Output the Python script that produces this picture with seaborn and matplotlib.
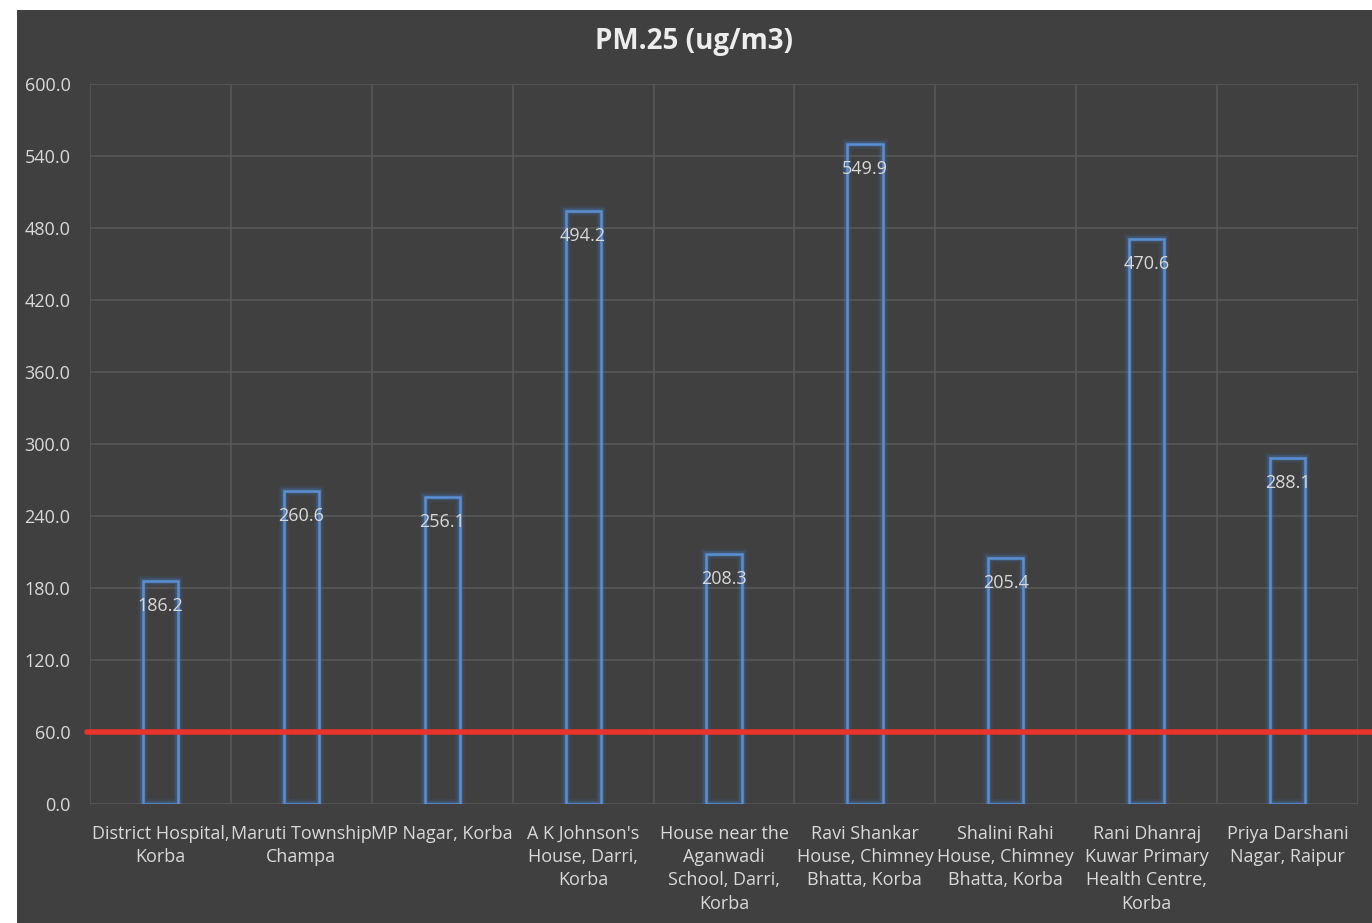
import numpy as np
import matplotlib
matplotlib.use("Agg")
import matplotlib.pyplot as plt
import matplotlib.patheffects as pe
from matplotlib.patches import Rectangle
from matplotlib.lines import Line2D
import seaborn as sns

# Monitoring sites and measured PM2.5 concentrations
sites = [
    "District Hospital,\nKorba",
    "Maruti Township\nChampa",
    "MP Nagar, Korba",
    "A K Johnson's\nHouse, Darri,\nKorba",
    "House near the\nAganwadi\nSchool, Darri,\nKorba",
    "Ravi Shankar\nHouse, Chimney\nBhatta, Korba",
    "Shalini Rahi\nHouse, Chimney\nBhatta, Korba",
    "Rani Dhanraj\nKuwar Primary\nHealth Centre,\nKorba",
    "Priya Darshani\nNagar, Raipur",
]
pm25 = [186.2, 260.6, 256.1, 494.2, 208.3, 549.9, 205.4, 470.6, 288.1]
limit = 60.0
y_ticks = [0, 60, 120, 180, 240, 300, 360, 420, 480, 540, 600]
title = "PM.25 (ug/m3)"

BG = "#404040"
GRID = "#575757"
TXT = "#d9d9d9"
BLUE = "#5b8fd3"

sns.set_theme(style="dark")
plt.rcParams["font.family"] = ["Open Sans", "DejaVu Sans"]

fig = plt.figure(figsize=(13.72, 9.23), dpi=100, facecolor="white")
W, H = 1372, 923
fig.patches.append(Rectangle((17 / W, 0), 1 - 17 / W, 1 - 10 / H,
                             transform=fig.transFigure, facecolor=BG,
                             edgecolor="none", zorder=-10))

ax = fig.add_axes([90 / W, 1 - 804 / H, (1358 - 90) / W, (804 - 84) / H])
ax.set_facecolor(BG)

sns.barplot(x=sites, y=pm25, ax=ax, fill=False, color=BLUE,
            width=0.25, linewidth=1.8, zorder=3)

glow = [pe.Stroke(linewidth=7, foreground="#3d6fb0", alpha=0.15),
        pe.Stroke(linewidth=4.0, foreground="#4a7fc4", alpha=0.30),
        pe.Normal()]
for p in ax.patches:
    p.set_edgecolor(BLUE)
    p.set_path_effects(glow)

for i, v in enumerate(pm25):
    ax.annotate(f"{v:.1f}", xy=(i, v), xytext=(0, -25),
                textcoords="offset pixels",
                ha="center", va="center", color=TXT, fontsize=13, zorder=5)

ax.set_ylim(0, 600)
ax.set_xlim(-0.5, len(sites) - 0.5)
ax.set_yticks(y_ticks)
ax.set_yticklabels([f"{t:.1f}" for t in y_ticks])
ax.set_xticks(np.arange(-0.5, len(sites), 1), minor=True)

ax.grid(False)
ax.grid(True, which="major", axis="y", color=GRID, linewidth=1.2, zorder=0)
ax.grid(True, which="minor", axis="x", color=GRID, linewidth=1.2, zorder=0)
ax.set_axisbelow(True)
for s in ax.spines.values():
    s.set_visible(False)

ax.tick_params(axis="both", which="both", length=0)
ax.tick_params(axis="y", colors=TXT, labelsize=13, pad=14)
ax.tick_params(axis="x", colors=TXT, labelsize=13, pad=15)
for lab in ax.get_xticklabels():
    lab.set_linespacing(1.38)

# Permissible 24-hour limit line, running to the right edge
ax.add_line(Line2D([-0.002, 1.02], [limit, limit], color="#e8342b",
                   linewidth=4, transform=ax.get_yaxis_transform(),
                   clip_on=False, zorder=6))

fig.text(694 / W, 1 - 42 / H, title, ha="center", va="center",
         color="#ededed", fontsize=20, fontweight="bold")

fig.savefig("out.png", dpi=100, facecolor=fig.get_facecolor())
